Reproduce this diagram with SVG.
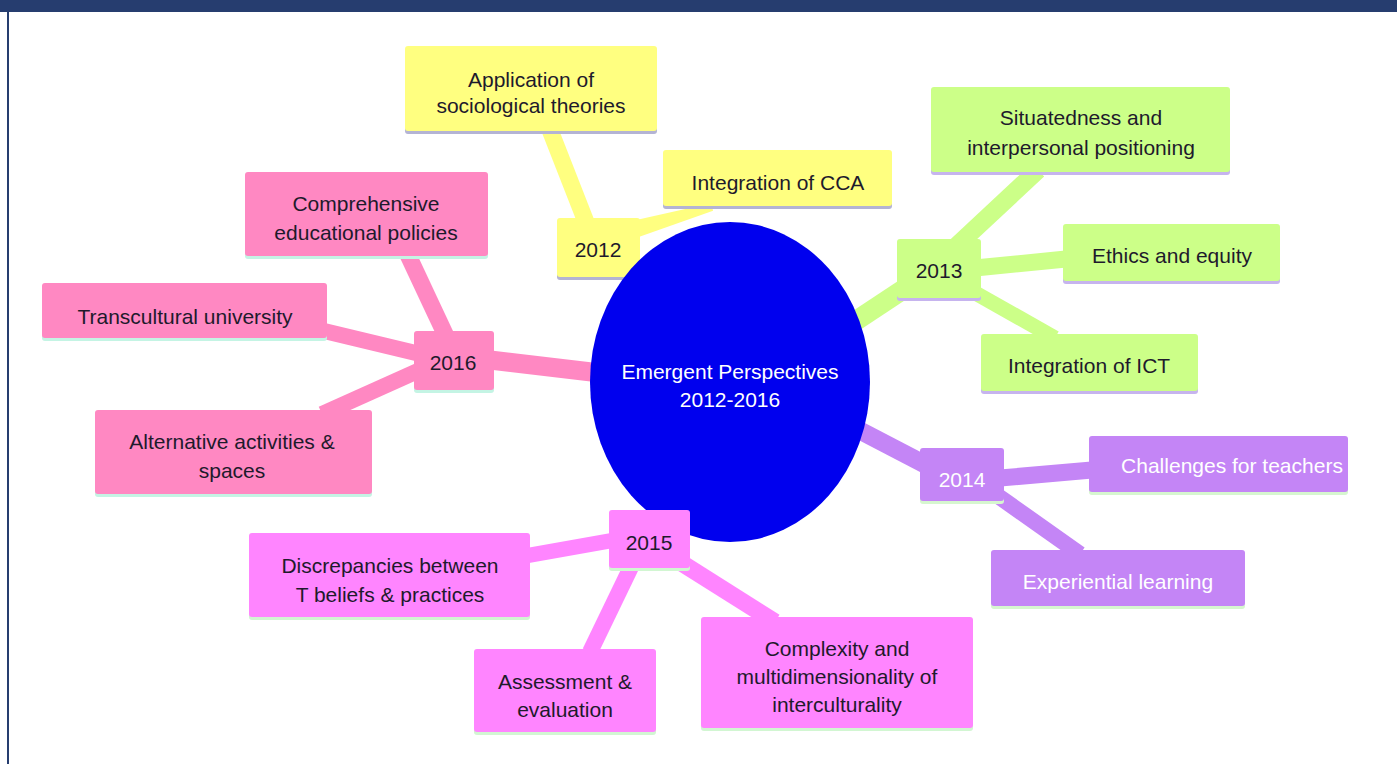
<svg xmlns="http://www.w3.org/2000/svg" width="1397" height="764" viewBox="0 0 1397 764">
<style>
text{font-family:"Liberation Sans",Arial,sans-serif;font-size:21px;text-anchor:middle;fill:#1e1a2c}
.w{fill:#ffffff}
.y{fill:#ffff80}.ys{fill:#b4b4d4}
.g{fill:#ccff88}.gs{fill:#c6b4ee}
.p{fill:#ff88c2}.ps{fill:#c4f4e4}
.v{fill:#c485f6}.vs{fill:#d6f6cf}
.m{fill:#ff85ff}.ms{fill:#d2f6d2}
.cy{stroke:#ffff80}.cg{stroke:#ccff88}.cp{stroke:#ff88c2}.cv{stroke:#c485f6}.cm{stroke:#ff85ff}
line{stroke-linecap:butt}
</style>
<rect x="0" y="0" width="1397" height="764" fill="#ffffff"/>
<rect x="0" y="0" width="1397" height="12" fill="#263d6f"/>
<rect x="7" y="12" width="2" height="752" fill="#263d6f"/>

<g id="connectors">
  <line class="cy" x1="586" y1="222" x2="550" y2="130" stroke-width="17"/>
  <polygon fill="#ffff80" points="629.5,221.4 710.9,203.2 713.1,210.8 634.5,238.6"/>
  <line class="cg" x1="845" y1="328" x2="910" y2="285" stroke-width="20"/>
  <line class="cg" x1="950" y1="252" x2="1038" y2="170" stroke-width="18"/>
  <line class="cg" x1="975" y1="268" x2="1066" y2="259" stroke-width="17"/>
  <line class="cg" x1="970" y1="290" x2="1055" y2="338" stroke-width="15"/>
  <line class="cv" x1="855" y1="428" x2="928" y2="466" stroke-width="18"/>
  <line class="cv" x1="1000" y1="478" x2="1092" y2="470" stroke-width="17"/>
  <line class="cv" x1="998" y1="496" x2="1080" y2="554" stroke-width="16"/>
  <line class="cm" x1="615" y1="540" x2="525" y2="556" stroke-width="15"/>
  <line class="cm" x1="632" y1="565" x2="590" y2="652" stroke-width="16"/>
  <line class="cm" x1="680" y1="562" x2="775" y2="622" stroke-width="17"/>
  <line class="cp" x1="600" y1="373" x2="490" y2="360" stroke-width="19"/>
  <line class="cp" x1="408" y1="255" x2="446" y2="336" stroke-width="17"/>
  <line class="cp" x1="320" y1="330" x2="420" y2="354" stroke-width="16"/>
  <line class="cp" x1="322" y1="414" x2="420" y2="370" stroke-width="16"/>
</g>

<g id="y2012">
  <rect class="ys" x="557" y="221" width="83" height="59" rx="3"/>
  <rect class="y" x="557" y="218" width="83" height="59" rx="3"/>
  <text x="598" y="257">2012</text>
</g>

<g id="center">
  <ellipse cx="730" cy="382" rx="140" ry="160" fill="#0000ee"/>
  <text class="w" x="730" y="379">Emergent Perspectives</text>
  <text class="w" x="730" y="407">2012-2016</text>
</g>

<g id="app">
  <rect class="ys" x="405" y="49" width="252" height="85" rx="3"/>
  <rect class="y" x="405" y="46" width="252" height="85" rx="3"/>
  <text x="531" y="87">Application of</text>
  <text x="531" y="113">sociological theories</text>
</g>
<g id="cca">
  <rect class="ys" x="663" y="153" width="229" height="56" rx="3"/>
  <rect class="y" x="663" y="150" width="229" height="56" rx="3"/>
  <text x="778" y="190">Integration of CCA</text>
</g>

<g id="y2013">
  <rect class="gs" x="897" y="242" width="84" height="59" rx="3"/>
  <rect class="g" x="897" y="239" width="84" height="59" rx="3"/>
  <text x="939" y="278">2013</text>
</g>
<g id="situ">
  <rect class="gs" x="931" y="90" width="299" height="85" rx="3"/>
  <rect class="g" x="931" y="87" width="299" height="85" rx="3"/>
  <text x="1081" y="125">Situatedness and</text>
  <text x="1081" y="155">interpersonal positioning</text>
</g>
<g id="ethics">
  <rect class="gs" x="1063" y="227" width="217" height="57" rx="3"/>
  <rect class="g" x="1063" y="224" width="217" height="57" rx="3"/>
  <text x="1172" y="263">Ethics and equity</text>
</g>
<g id="ict">
  <rect class="gs" x="981" y="337" width="217" height="57" rx="3"/>
  <rect class="g" x="981" y="334" width="217" height="57" rx="3"/>
  <text x="1089" y="373">Integration of ICT</text>
</g>

<g id="y2014">
  <rect class="vs" x="920" y="451" width="84" height="53" rx="3"/>
  <rect class="v" x="920" y="448" width="84" height="53" rx="3"/>
  <text class="w" x="962" y="487">2014</text>
</g>
<g id="challenges">
  <rect class="vs" x="1089" y="439" width="259" height="56" rx="3"/>
  <rect class="v" x="1089" y="436" width="259" height="56" rx="3"/>
  <text class="w" x="1232" y="473">Challenges for teachers</text>
</g>
<g id="experiential">
  <rect class="vs" x="991" y="553" width="254" height="56" rx="3"/>
  <rect class="v" x="991" y="550" width="254" height="56" rx="3"/>
  <text class="w" x="1118" y="589">Experiential learning</text>
</g>

<g id="y2015">
  <rect class="ms" x="609" y="513" width="81" height="58" rx="3"/>
  <rect class="m" x="609" y="510" width="81" height="58" rx="3"/>
  <text x="649" y="550">2015</text>
</g>
<g id="discrepancies">
  <rect class="ms" x="249" y="536" width="281" height="84" rx="3"/>
  <rect class="m" x="249" y="533" width="281" height="84" rx="3"/>
  <text x="390" y="573">Discrepancies between</text>
  <text x="390" y="602">T beliefs &amp; practices</text>
</g>
<g id="assessment">
  <rect class="ms" x="474" y="652" width="182" height="83" rx="3"/>
  <rect class="m" x="474" y="649" width="182" height="83" rx="3"/>
  <text x="565" y="689">Assessment &amp;</text>
  <text x="565" y="717">evaluation</text>
</g>
<g id="complexity">
  <rect class="ms" x="701" y="620" width="272" height="111" rx="3"/>
  <rect class="m" x="701" y="617" width="272" height="111" rx="3"/>
  <text x="837" y="656">Complexity and</text>
  <text x="837" y="684">multidimensionality of</text>
  <text x="837" y="712">interculturality</text>
</g>

<g id="y2016">
  <rect class="ps" x="414" y="334" width="80" height="59" rx="3"/>
  <rect class="p" x="414" y="331" width="80" height="59" rx="3"/>
  <text x="453" y="370">2016</text>
</g>
<g id="comprehensive">
  <rect class="ps" x="245" y="175" width="243" height="84" rx="3"/>
  <rect class="p" x="245" y="172" width="243" height="84" rx="3"/>
  <text x="366" y="211">Comprehensive</text>
  <text x="366" y="240">educational policies</text>
</g>
<g id="transcultural">
  <rect class="ps" x="42" y="286" width="285" height="55" rx="3"/>
  <rect class="p" x="42" y="283" width="285" height="55" rx="3"/>
  <text x="185" y="324">Transcultural university</text>
</g>
<g id="alternative">
  <rect class="ps" x="95" y="413" width="277" height="84" rx="3"/>
  <rect class="p" x="95" y="410" width="277" height="84" rx="3"/>
  <text x="232" y="449">Alternative activities &amp;</text>
  <text x="232" y="478">spaces</text>
</g>
</svg>
